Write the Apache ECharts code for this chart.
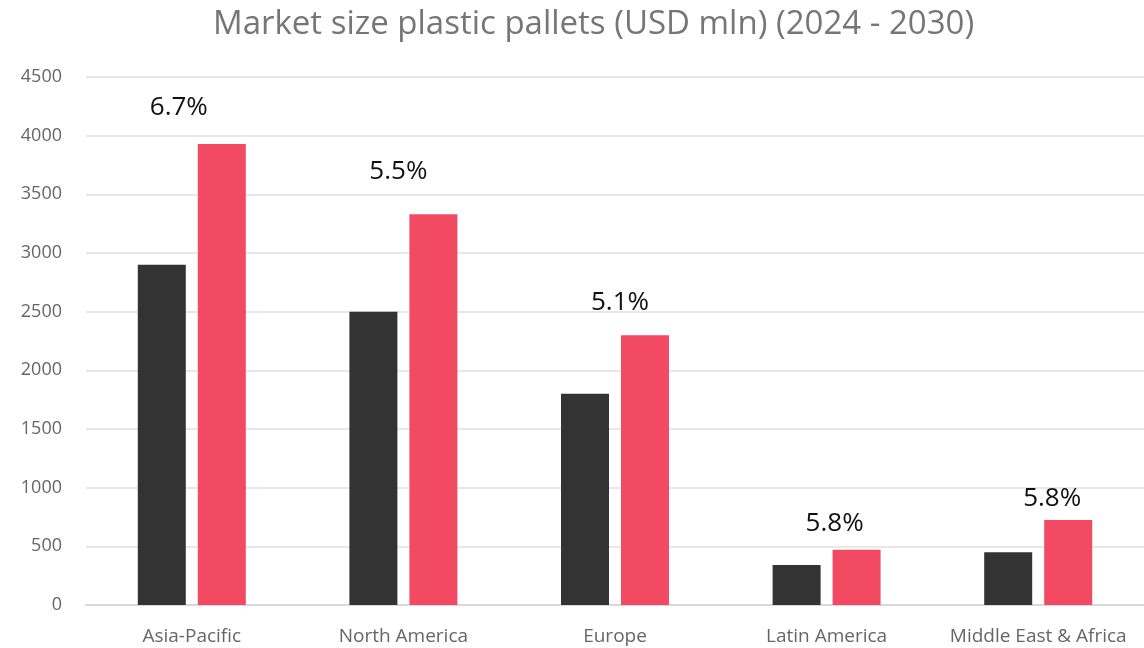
<!DOCTYPE html>
<html>
<head>
<meta charset="utf-8">
<title>Market size plastic pallets</title>
<script src="https://cdn.jsdelivr.net/npm/echarts@6/dist/echarts.min.js"></script>
<style>
  html, body { margin: 0; padding: 0; background: #fff; }
  #chart { width: 1144px; height: 648px; }
</style>
</head>
<body>
<div id="chart"></div>
<script>
  // data
  var regions = ['Asia-Pacific', 'North America', 'Europe', 'Latin America', 'Middle East & Africa'];
  var size2024 = [2900, 2500, 1800, 340, 450];
  var size2030 = [3930, 3330, 2300, 470, 725];
  var cagr = ['6.7%', '5.5%', '5.1%', '5.8%', '5.8%'];
  var yTicks = [0, 500, 1000, 1500, 2000, 2500, 3000, 3500, 4000, 4500];

  // label nudges (px) so the growth rates sit where they do in the original
  var labelOffsets = [[-43, -18], [-35, -25], [-25, -15], [-22, -8], [-16, -3]];

  var chart = echarts.init(document.getElementById('chart'));
  var font = '"Open Sans", sans-serif';

  var option = {
    animation: false,
    title: {
      text: 'Market size plastic pallets (USD mln) (2024 - 2030)',
      left: 208,
      top: 3,
      textStyle: { fontFamily: font, fontSize: 33, fontWeight: 'normal', color: '#767676' }
    },
    grid: { left: 86, right: 0, top: 77, bottom: 43 },
    xAxis: {
      type: 'category',
      data: regions,
      axisLine: { lineStyle: { color: '#d9d9d9', width: 2 } },
      axisTick: { show: false },
      axisLabel: { fontFamily: font, fontSize: 19, color: '#666', margin: 22, interval: 0 }
    },
    yAxis: {
      type: 'value',
      min: yTicks[0],
      max: yTicks[yTicks.length - 1],
      interval: 500,
      axisLine: { show: false },
      axisTick: { show: false },
      splitLine: { lineStyle: { color: '#e0e0e0', width: 1.5 } },
      axisLabel: {
        fontFamily: font, fontSize: 18, color: '#666', margin: 24,
        formatter: function (v) { return String(v); }
      }
    },
    series: [
      {
        name: '2024',
        type: 'bar',
        data: size2024,
        barWidth: 48,
        barGap: '25%',
        itemStyle: { color: '#333333' }
      },
      {
        name: '2030',
        type: 'bar',
        barWidth: 48,
        data: size2030.map(function (v, i) {
          return {
            value: v,
            label: { offset: labelOffsets[i] }
          };
        }),
        itemStyle: { color: '#f24a63' },
        label: {
          show: true,
          position: 'top',
          fontFamily: font,
          fontSize: 26,
          color: '#111',
          formatter: function (p) { return cagr[p.dataIndex]; }
        }
      }
    ]
  };
  chart.setOption(option);
</script>
</body>
</html>
